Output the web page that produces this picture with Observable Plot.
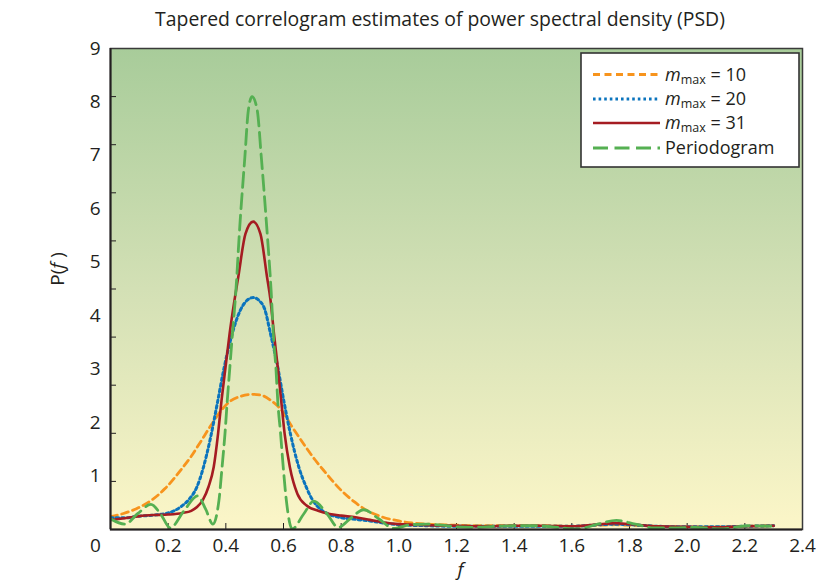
<!DOCTYPE html>
<html>
<head>
<meta charset="utf-8">
<script src="https://cdn.jsdelivr.net/npm/d3@7"></script>
<script src="https://cdn.jsdelivr.net/npm/@observablehq/plot@0.6"></script>
<style>
  body { margin: 0; background: #fff; color: #231f20; font-family: "Open Sans", sans-serif; }
  #wrap { position: relative; width: 831px; height: 582px; overflow: hidden; }
  #title { position: absolute; top: 7px; left: 440px; transform: translateX(-50%); white-space: nowrap; font-size: 19.4px; line-height: 24px; }
  #chart { position: absolute; top: 36px; left: 0; }
  #legend { position: absolute; left: 580px; top: 52px; }
</style>
</head>
<body>
<div id="wrap">
  <div id="title">Tapered correlogram estimates of power spectral density (PSD)</div>
  <div id="chart"></div>
  <svg id="legend" width="221" height="117"></svg>
</div>
<script>
// ---- data ----
const f10 = [0, 0.045, 0.09, 0.14, 0.19, 0.245, 0.28, 0.31, 0.345, 0.38, 0.415, 0.45, 0.495, 0.53, 0.555, 0.595, 0.63, 0.67, 0.71, 0.745, 0.795, 0.845, 0.895, 0.945, 1.0, 1.05, 1.1, 1.2, 1.3, 1.4, 1.5, 1.6, 1.7, 1.75, 1.8, 1.9, 2.0, 2.1, 2.2, 2.3];
const p10 = [0.24, 0.30, 0.39, 0.54, 0.77, 1.12, 1.37, 1.62, 1.92, 2.2, 2.4, 2.49, 2.53, 2.5, 2.42, 2.22, 1.92, 1.6, 1.3, 1.07, 0.76, 0.52, 0.34, 0.23, 0.16, 0.12, 0.1, 0.08, 0.07, 0.07, 0.07, 0.06, 0.08, 0.09, 0.08, 0.06, 0.05, 0.05, 0.06, 0.07];

const f20 = [0, 0.05, 0.1, 0.15, 0.2, 0.25, 0.275, 0.3, 0.32, 0.347, 0.37, 0.393, 0.422, 0.45, 0.474, 0.495, 0.514, 0.535, 0.555, 0.58, 0.601, 0.624, 0.653, 0.68, 0.7, 0.728, 0.76, 0.8, 0.85, 0.9, 0.95, 1.0, 1.1, 1.2, 1.3, 1.4, 1.5, 1.6, 1.7, 1.75, 1.8, 1.9, 2.0, 2.1, 2.2, 2.3];
const p20 = [0.22, 0.22, 0.25, 0.27, 0.31, 0.45, 0.58, 0.8, 1.12, 1.72, 2.35, 3.0, 3.66, 4.1, 4.29, 4.34, 4.29, 4.12, 3.66, 3.04, 2.41, 1.79, 1.17, 0.78, 0.56, 0.38, 0.28, 0.22, 0.19, 0.16, 0.12, 0.09, 0.07, 0.06, 0.06, 0.06, 0.06, 0.06, 0.09, 0.1, 0.09, 0.06, 0.05, 0.05, 0.06, 0.07];

const f31 = [0, 0.05, 0.1, 0.15, 0.2, 0.25, 0.28, 0.3, 0.32, 0.34, 0.358, 0.373, 0.385, 0.399, 0.413, 0.43, 0.443, 0.468, 0.495, 0.52, 0.543, 0.555, 0.567, 0.58, 0.592, 0.604, 0.622, 0.648, 0.68, 0.72, 0.76, 0.8, 0.85, 0.9, 0.95, 1.0, 1.1, 1.2, 1.3, 1.4, 1.5, 1.6, 1.7, 1.75, 1.8, 1.9, 2.0, 2.1, 2.2, 2.3];
const p31 = [0.18, 0.21, 0.25, 0.27, 0.28, 0.31, 0.35, 0.42, 0.55, 0.8, 1.17, 1.79, 2.41, 3.04, 3.66, 4.29, 4.72, 5.53, 5.76, 5.53, 4.72, 4.29, 3.66, 3.04, 2.41, 1.79, 1.17, 0.67, 0.45, 0.35, 0.29, 0.26, 0.23, 0.18, 0.13, 0.1, 0.08, 0.07, 0.06, 0.07, 0.07, 0.06, 0.1, 0.12, 0.1, 0.06, 0.05, 0.04, 0.06, 0.07];

const fPer = [0, 0.05, 0.095, 0.14, 0.175, 0.207, 0.255, 0.302, 0.33, 0.355, 0.376, 0.387, 0.397, 0.405, 0.414, 0.422, 0.434, 0.449, 0.466, 0.478, 0.491, 0.509, 0.523, 0.541, 0.557, 0.566, 0.574, 0.58, 0.59, 0.599, 0.61, 0.63, 0.67, 0.705, 0.75, 0.79, 0.835, 0.878, 0.93, 0.983, 1.04, 1.1, 1.15, 1.2, 1.26, 1.33, 1.4, 1.48, 1.55, 1.62, 1.69, 1.755, 1.82, 1.885, 1.95, 2.03, 2.116, 2.21, 2.295];
const pPer = [0.2, 0.1, 0.3, 0.47, 0.28, 0.03, 0.35, 0.63, 0.38, 0.1, 0.54, 1.17, 1.79, 2.41, 3.04, 3.6, 4.4, 5.72, 6.97, 7.84, 8.1, 7.84, 6.97, 5.72, 4.47, 3.55, 3.0, 2.41, 1.79, 1.17, 0.54, 0.01, 0.29, 0.53, 0.3, 0.04, 0.22, 0.37, 0.2, 0.02, 0.09, 0.1, 0.08, 0.05, 0.04, 0.06, 0.07, 0.07, 0.04, 0.01, 0.1, 0.17, 0.1, 0.03, 0.03, 0.04, 0.01, 0.07, 0.06];

const yTickLabels = [1, 2, 3, 4, 5, 6, 7, 8, 9];
const yTickMarks = [0.9, 1.8, 2.7, 3.6, 4.5, 5.4, 6.3, 7.2, 8.1];
const xTickLabels = [0.2, 0.4, 0.6, 0.8, 1.0, 1.2, 1.4, 1.6, 1.8, 2.0, 2.2, 2.4];
const xTickMarks = [0.2, 0.4, 0.6, 0.8, 1.0, 1.2, 1.4, 1.6, 1.8, 2.0, 2.2];

const seriesNames = ["m10", "m20", "m31", "Periodogram"];
const colors = ["#f7941d", "#0b74bd", "#a51c22", "#55b052"];
const widths = [2.8, 3, 2.6, 2.8];
const dashes = ["7,4.5", "2.6,3", null, "15,6.5"];

const toRows = (fs, ps) => fs.map((f, i) => ({f, p: ps[i]}));
const rows = [toRows(f10, p10), toRows(f20, p20), toRows(f31, p31), toRows(fPer, pPer)];

const lineMark = (i) => Plot.line(rows[i], {
  x: "f", y: "p", stroke: colors[i], strokeWidth: widths[i],
  strokeDasharray: dashes[i] || undefined, curve: "monotone-x", clip: true
});

const chart = Plot.plot({
  width: 831, height: 546,
  marginLeft: 110, marginRight: 29, marginTop: 12, marginBottom: 53,
  style: {fontFamily: "'Open Sans', sans-serif", fontSize: "19px", color: "#231f20", background: "transparent", overflow: "visible"},
  x: {domain: [0, 2.4]},
  y: {domain: [0, 9]},
  marks: [
    Plot.frame({fill: "url(#bgGrad)", stroke: null}),
    Plot.axisY({ticks: yTickLabels, tickSize: 0, tickPadding: 10, tickFormat: d => String(d), label: null}),
    Plot.axisY({ticks: yTickMarks, tickSize: 6, dx: 6, tickFormat: () => "", label: null, stroke: "#231f20"}),
    Plot.axisX({ticks: xTickLabels, tickSize: 0, tickPadding: 9, tickFormat: d3.format(".1f"), label: null}),
    Plot.axisX({ticks: [0], tickSize: 0, tickPadding: 9, dx: -15, tickFormat: () => "0", label: null}),
    Plot.axisX({ticks: xTickMarks, tickSize: 6, dy: -6, tickFormat: () => "", label: null, stroke: "#231f20"}),
    lineMark(0), lineMark(1), lineMark(2), lineMark(3),
    Plot.frame({stroke: "#3a3a3a", strokeWidth: 1.5}),
    Plot.ruleX([0], {stroke: "#231f20", strokeWidth: 2}),
    Plot.ruleY([0], {stroke: "#231f20", strokeWidth: 2}),
    Plot.text(["f"], {frameAnchor: "bottom", dy: 46, dx: 4, text: d => d, fontStyle: "italic", fontSize: 19, fill: "#231f20"})
  ]
});

// gradient background definition
const svg = d3.select(chart);
const defs = svg.insert("defs", ":first-child");
const grad = defs.append("linearGradient").attr("id", "bgGrad").attr("x1", 0).attr("y1", 0).attr("x2", 0).attr("y2", 1);
grad.append("stop").attr("offset", "0%").attr("stop-color", "#a8cc9a");
grad.append("stop").attr("offset", "50%").attr("stop-color", "#d3e0b5");
grad.append("stop").attr("offset", "100%").attr("stop-color", "#fcf6c8");

// y axis label P(f)
const yl = svg.append("text")
  .attr("transform", "translate(64,233) rotate(-90)")
  .attr("text-anchor", "middle")
  .attr("font-size", 19).attr("fill", "#231f20");
yl.append("tspan").text("P(");
yl.append("tspan").attr("font-style", "italic").text("f");
yl.append("tspan").text(" )");

document.getElementById("chart").appendChild(chart);

// legend
const lg = d3.select("#legend");
lg.append("rect").attr("x", 1).attr("y", 1).attr("width", 218).attr("height", 114)
  .attr("fill", "#fff").attr("stroke", "#333").attr("stroke-width", 1.6);
const rowY = [22.5, 47, 71, 96];
const labelNums = ["10", "20", "31"];
seriesNames.forEach((name, i) => {
  lg.append("line").attr("x1", 13).attr("x2", 80).attr("y1", rowY[i]).attr("y2", rowY[i])
    .attr("stroke", colors[i]).attr("stroke-width", widths[i])
    .attr("stroke-dasharray", dashes[i]);
  const t = lg.append("text").attr("x", 85).attr("y", rowY[i] + 6)
    .attr("font-size", 18).attr("fill", "#231f20");
  if (i < 3) {
    t.append("tspan").attr("font-style", "italic").text("m");
    t.append("tspan").attr("font-size", 12.5).attr("dy", 3).text("max");
    t.append("tspan").attr("dy", -3).text(" = " + labelNums[i]);
  } else {
    t.text("Periodogram");
  }
});
</script>
</body>
</html>
